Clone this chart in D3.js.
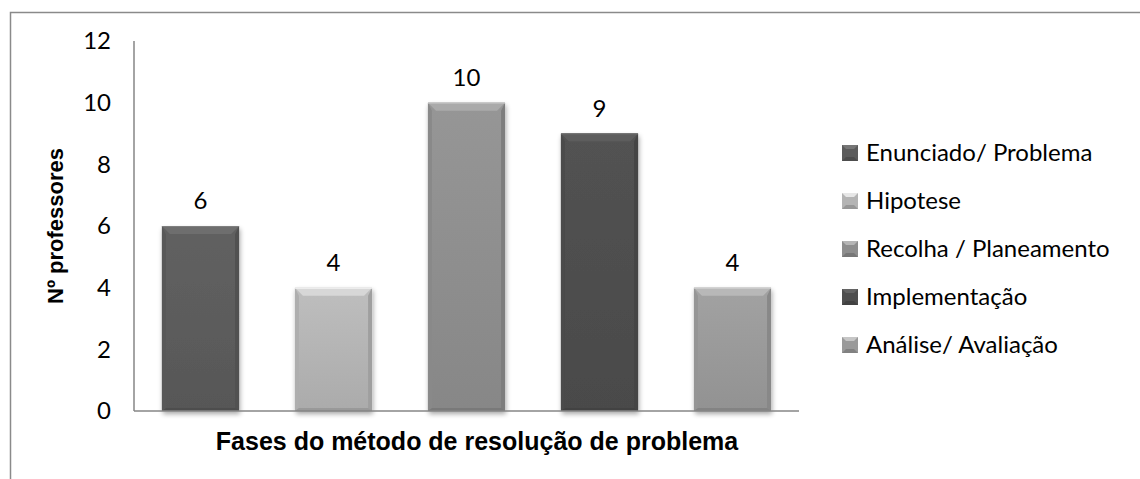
<!DOCTYPE html>
<html>
<head>
<meta charset="utf-8">
<script src="https://cdn.jsdelivr.net/npm/d3@7/dist/d3.min.js"></script>
<style>
  html, body { margin: 0; padding: 0; background: #fff; }
  svg { display: block; }
</style>
</head>
<body>
<svg id="chart" width="1140" height="479"></svg>
<script>
// Phases of the problem-solving method and number of teachers per phase
const categories = ["Enunciado/ Problema", "Hipotese", "Recolha / Planeamento", "Implementação", "Análise/ Avaliação"];
const values = [6, 4, 10, 9, 4];
const barColors = ["#5c5c5c", "#b4b4b4", "#8e8e8e", "#4e4e4e", "#9a9a9a"];
const yTicks = [0, 2, 4, 6, 8, 10, 12];
const yTitle = "Nº professores";
const xTitle = "Fases do método de resolução de problema";

const svg = d3.select("#chart");
const W = 1140, H = 479;
const plot = { left: 134, right: 799, top: 41, bottom: 411 };
const bodyFont = "Lato, 'Open Sans', sans-serif";
const titleFont = "'Liberation Sans', Arial, sans-serif";

const x = d3.scaleBand().domain(categories).range([plot.left, plot.right]).paddingInner(0.42).paddingOuter(0.21);
const y = d3.scaleLinear().domain([0, 12]).range([plot.bottom, plot.top]);

const defs = svg.append("defs");
const shadow = defs.append("filter").attr("id", "shadow").attr("x", "-20%").attr("y", "-10%").attr("width", "140%").attr("height", "130%");
shadow.append("feGaussianBlur").attr("in", "SourceAlpha").attr("stdDeviation", 2.5).attr("result", "b");
shadow.append("feOffset").attr("in", "b").attr("dx", 1).attr("dy", 3).attr("result", "o");
shadow.append("feComponentTransfer").attr("in", "o").attr("result", "s")
  .append("feFuncA").attr("type", "linear").attr("slope", 0.35);
const merge = shadow.append("feMerge");
merge.append("feMergeNode").attr("in", "s");
merge.append("feMergeNode").attr("in", "SourceGraphic");

// Outer frame (top and left edges)
svg.append("path").attr("d", `M10.5,${H} L10.5,12.5 L${W},12.5`)
  .attr("fill", "none").attr("stroke", "#8a8a8a").attr("stroke-width", 1.5);

// Bars with a bevelled look
const bev = 8;
const bars = svg.append("g").selectAll("g").data(categories).join("g").attr("filter", "url(#shadow)");
bars.each(function (c, i) {
  const g = d3.select(this);
  const x0 = x(c), w = x.bandwidth(), y0 = y(values[i]), y1 = y(0);
  const base = d3.color(barColors[i]);
  const gid = "grad" + i;
  const gr = defs.append("linearGradient").attr("id", gid).attr("x1", 0).attr("y1", 0).attr("x2", 0).attr("y2", 1);
  gr.append("stop").attr("offset", "0%").attr("stop-color", base.brighter(0.15));
  gr.append("stop").attr("offset", "100%").attr("stop-color", base.darker(0.15));
  g.append("rect").attr("x", x0).attr("y", y0).attr("width", w).attr("height", y1 - y0).attr("fill", `url(#${gid})`);
  // top bevel
  g.append("path").attr("d", `M${x0},${y0} L${x0 + w},${y0} L${x0 + w - bev},${y0 + bev} L${x0 + bev},${y0 + bev} Z`)
    .attr("fill", base.brighter(0.5));
  // left bevel
  g.append("path").attr("d", `M${x0},${y0} L${x0 + bev * 0.5},${y0 + bev} L${x0 + bev * 0.5},${y1 - 2} L${x0},${y1} Z`)
    .attr("fill", base.darker(0.1));
  // right bevel
  g.append("path").attr("d", `M${x0 + w},${y0} L${x0 + w - bev * 0.5},${y0 + bev} L${x0 + w - bev * 0.5},${y1 - 2} L${x0 + w},${y1} Z`)
    .attr("fill", base.darker(0.35));
  // bottom edge
  g.append("path").attr("d", `M${x0},${y1} L${x0 + bev * 0.5},${y1 - 3} L${x0 + w - bev * 0.5},${y1 - 3} L${x0 + w},${y1} Z`)
    .attr("fill", base.darker(0.45));
  // thin highlight on top edge
  g.append("line").attr("x1", x0).attr("x2", x0 + w).attr("y1", y0 + 0.5).attr("y2", y0 + 0.5)
    .attr("stroke", base.brighter(0.9)).attr("stroke-width", 1);
});

// Axes lines
svg.append("line").attr("x1", plot.left).attr("x2", plot.left).attr("y1", plot.top).attr("y2", plot.bottom)
  .attr("stroke", "#868686").attr("stroke-width", 1.5);
svg.append("line").attr("x1", plot.left).attr("x2", plot.right).attr("y1", plot.bottom).attr("y2", plot.bottom)
  .attr("stroke", "#868686").attr("stroke-width", 1.5);

// Y tick labels
const yAxis = d3.axisLeft(y).tickValues(yTicks).tickSize(0).tickPadding(23);
const ya = svg.append("g").attr("transform", `translate(${plot.left},0)`).call(yAxis);
ya.select(".domain").remove();
ya.selectAll("text").attr("font-family", bodyFont).attr("font-size", 24).attr("fill", "#000");

// Value labels
svg.append("g").selectAll("text").data(categories).join("text")
  .attr("x", c => x(c) + x.bandwidth() / 2)
  .attr("y", (c, i) => y(values[i]) - 17)
  .attr("text-anchor", "middle")
  .attr("font-family", bodyFont).attr("font-size", 24).attr("fill", "#000")
  .text((c, i) => values[i]);

// Axis titles
svg.append("text").attr("transform", `translate(63,226) rotate(-90)`)
  .attr("text-anchor", "middle").attr("font-family", titleFont)
  .attr("font-weight", "bold").attr("font-size", 22).text(yTitle);
svg.append("text").attr("x", 477).attr("y", 450)
  .attr("text-anchor", "middle").attr("font-family", titleFont)
  .attr("font-weight", "bold").attr("font-size", 25).text(xTitle);

// Legend
const leg = svg.append("g").selectAll("g").data(categories).join("g")
  .attr("transform", (c, i) => `translate(842,${153 + i * 48})`);
leg.each(function (c, i) {
  const g = d3.select(this);
  const base = d3.color(barColors[i]);
  const s = 16, b = 4;
  g.append("rect").attr("x", 0).attr("y", -s / 2).attr("width", s).attr("height", s).attr("fill", base);
  g.append("path").attr("d", `M0,${-s / 2} L${s},${-s / 2} L${s - b},${-s / 2 + b} L${b},${-s / 2 + b} Z`).attr("fill", base.brighter(0.7));
  g.append("path").attr("d", `M0,${s / 2} L${s},${s / 2} L${s - b},${s / 2 - b} L${b},${s / 2 - b} Z`).attr("fill", base.darker(0.5));
});
leg.append("text").attr("x", 24).attr("y", 0).attr("dy", "0.35em")
  .attr("font-family", bodyFont).attr("font-size", 24).attr("fill", "#000")
  .text(c => c);
</script>
</body>
</html>
